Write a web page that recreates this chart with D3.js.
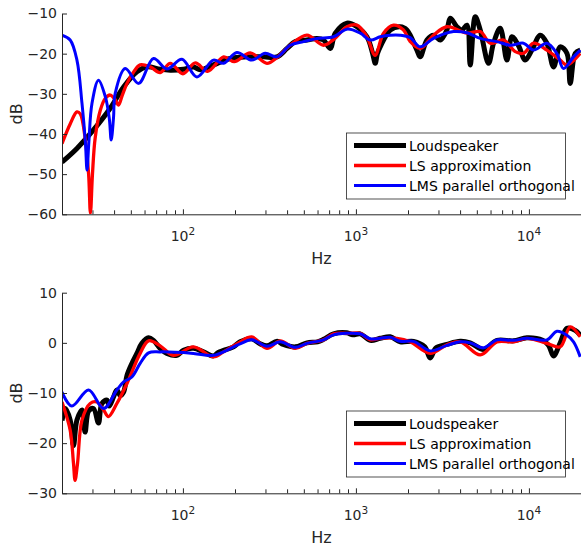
<!DOCTYPE html>
<html>
<head>
<meta charset="utf-8">
<script src="https://cdn.jsdelivr.net/npm/d3@7"></script>
<style>
body { margin: 0; background: #fff; }
svg { display: block; font-family: "DejaVu Sans", sans-serif; }
.axis path, .axis line { stroke: #262626; stroke-width: 1; }
.axis text { fill: #262626; font-size: 14px; font-family: "DejaVu Sans", sans-serif; }
.label { fill: #262626; font-size: 16px; }
.legend text { fill: #000; font-size: 14px; }
</style>
</head>
<body>
<svg width="581" height="551"></svg>
<script>
// series names, same order in both panels
var seriesNames = ['Loudspeaker', 'LS approximation', 'LMS parallel orthogonal'];

var majorFreqs = [100, 1000, 10000];
var minorFreqs = [20, 30, 40, 50, 60, 70, 80, 90, 200, 300, 400, 500, 600, 700, 800, 900,
                  2000, 3000, 4000, 5000, 6000, 7000, 8000, 9000, 20000];

var topTicks = [-10, -20, -30, -40, -50, -60];
var bottomTicks = [10, 0, -10, -20, -30];

// [Hz, dB]
var topLoudspeaker = [[20,-47],[24.4,-43.6],[30.4,-39],[38,-33.6],[45.4,-28.3],[54.2,-24.5],[61.9,-23.3],
  [73.9,-23.9],[84.5,-24.1],[100.8,-23.9],[115,-23.3],[126,-24],[150,-22.8],[188,-21.2],[234,-20.8],
  [292,-20.8],[350,-20.8],[400,-18.7],[446,-17],[521,-16.6],[595,-16.2],[650,-16.6],[710,-18.7],
  [760,-14.9],[887,-12.4],[1013,-13.3],[1158,-15.8],[1250,-20],[1293,-22.4],[1330,-20],[1382,-18.3],
  [1579,-14.1],[1804,-13.3],[1971,-14.1],[2252,-19.1],[2353,-20.8],[2573,-16.6],[2809,-15.4],
  [3071,-16.6],[3357,-14.1],[3509,-11.2],[3836,-13.3],[4100,-14.1],[4381,-12.9],[4579,-22.8],
  [4894,-10.8],[5230,-14.1],[5841,-22.4],[6243,-17.4],[6825,-13.7],[7462,-21.6],[7975,-15.8],
  [8708,-18],[9520,-21.6],[10406,-19.1],[11623,-15.4],[12706,-17.4],[13876,-23.3],[15168,-18.3],
  [16585,-19.9],[17330,-27.4],[18523,-19.9],[19799,-19.1]];

var topLS = [[20,-42.4],[22.3,-37.5],[24.4,-34.5],[25.5,-35],[27.2,-41],[28.5,-50],[29.2,-59.7],
  [30,-50],[31.1,-41],[33.3,-34.1],[35.6,-31.1],[38,-30.3],[40.6,-31.5],[42.4,-32.8],[44.5,-30.5],
  [47.5,-27.4],[52,-24.5],[56.6,-22.8],[64.7,-23.3],[73.9,-24.7],[84.5,-22.4],[100,-25],[118,-22.3],
  [139,-24.4],[172,-20.8],[198,-22],[245,-19.8],[306,-22.4],[349,-21],[417,-17.9],[521,-15.4],
  [650,-17.9],[742,-16.5],[887,-13.3],[1013,-12.9],[1158,-15.8],[1290,-20.4],[1444,-14.9],
  [1650,-12.9],[1884,-14.1],[2060,-17],[2353,-18.7],[2809,-15.4],[3357,-13.3],[4381,-14.9],
  [5230,-14.5],[5975,-17.4],[7133,-16.6],[8333,-19.5],[9307,-19.9],[10631,-17.4],[12706,-19.1],
  [15168,-21.6],[16585,-22.8],[19799,-19.9]];

var topLMS = [[20,-15.4],[22.3,-16.6],[24.4,-21.6],[26.1,-32.4],[27.3,-42],[27.9,-49],[28.6,-42],
  [29.8,-32.4],[32.5,-26.6],[35.6,-30.7],[37.5,-36],[38.5,-41.5],[39.7,-36],[40.6,-29.9],
  [46.4,-23.7],[55.4,-27.4],[67.6,-21.2],[80.8,-23.8],[98.7,-21.4],[120.5,-25.8],[150,-21.6],
  [172,-22.4],[205,-19.7],[250,-21.6],[299,-19.9],[349,-20.8],[417,-17.9],[498,-17],[595,-16.2],
  [742,-15.8],[887,-13.9],[1059,-14.9],[1210,-16.6],[1382,-15.8],[1579,-15.4],[1804,-15.4],
  [2060,-16],[2353,-18.3],[2809,-16.2],[3667,-14.5],[4381,-14.8],[5230,-16.2],[6531,-17],
  [7797,-17.9],[9307,-17.4],[10631,-19.1],[12706,-17.4],[14515,-20],[15849,-23.7],[18109,-20.8],
  [19799,-19.1]];

// [Hz, dB]
var bottomLoudspeaker = [[20,-15.5],[20.9,-13.1],[22.3,-15.4],[23.3,-20.5],[24.4,-15.4],[26.1,-13.4],
  [27.2,-17.8],[28.5,-13.6],[30.4,-13.1],[32.5,-16],[34,-12.1],[36.4,-11.4],[37.5,-12.6],
  [39.7,-10.8],[41.5,-9.4],[43.4,-10.5],[45.4,-9.8],[47.5,-6.5],[50.7,-4.1],[54.2,-2.1],
  [57.9,-0.1],[63.3,1.0],[67.6,0.5],[73.9,-1.1],[80.8,-2.1],[92.3,-2.5],[100.8,-1.5],[115,-1.1],
  [131.5,-1.8],[150,-2.6],[160,-1.9],[172,-1.5],[196,-0.8],[214,0.2],[250,0.8],[280,-0.2],
  [306,-0.6],[350,0.3],[380,-0.3],[446,-0.8],[521,0],[600,0.2],[650,0.7],[742,1.8],[887,2.0],
  [960,1.6],[1059,1.8],[1210,0.5],[1382,0.9],[1579,1.2],[1804,0.2],[2153,0.3],[2500,-0.8],
  [2688,-3],[2900,-1],[3357,-0.3],[4009,0.3],[4579,0],[5466,-1.3],[6531,0.5],[8147,0.4],
  [9737,1],[12000,0.5],[13000,-0.5],[13876,-2.6],[15168,0],[16585,2.9],[18523,2.5],[19799,1.5]];

var bottomLS = [[20,-11.8],[22.3,-17.4],[23.3,-24],[23.8,-27.4],[24.6,-24],[26.1,-15.4],
  [29.1,-12.1],[31.8,-11.8],[34.8,-13.4],[37.1,-14.7],[41.5,-12.1],[47.5,-8.1],[56.6,-2.1],
  [63.3,0.4],[73.9,-0.6],[88.2,-2.5],[115,-0.8],[150.3,-2.8],[171.7,-1.8],[214,0.2],[250,1.2],
  [306,-1.1],[365,0.4],[446,-1.1],[521,-0.1],[650,0.6],[742,1.8],[887,1.9],[1059,1.9],[1210,0.6],
  [1382,0.9],[1726,0.9],[2060,0.2],[2688,-2.1],[3357,-0.4],[4009,0.2],[5230,-2.4],[6531,0.2],
  [8147,0.2],[9737,0.9],[12706,-0.1],[15168,-0.8],[17330,3.2],[19799,1.2]];

var bottomLMS = [[20,-9.8],[22.8,-12.6],[28.5,-9.4],[34.8,-13.1],[41.5,-9.4],[45.4,-7.8],
  [50.7,-6.8],[56.6,-4.1],[63.3,-2.0],[73.9,-1.8],[115,-2.1],[150,-2.5],[214,-0.2],[250,0.6],
  [306,-0.7],[365,0.2],[446,-0.9],[521,-0.1],[650,0.6],[742,1.6],[887,1.9],[1059,1.8],[1210,0.8],
  [1382,0.9],[1579,1.1],[1804,0.3],[2153,0.3],[2688,-1.6],[3357,-0.5],[4009,0.2],[4579,0],
  [5466,-1],[6531,0.6],[8147,0.5],[9737,0.9],[12706,0.6],[14515,2.3],[16585,1.5],[18109,0.2],
  [19799,-2.8]];

var lineColors = ['#000000', '#ff0000', '#0000ff'];
var lineWidths = [5, 3.3, 3];

var svg = d3.select('svg');

drawPanel('top', [13.5, 214.3], [-60, -10], topTicks,
          [topLoudspeaker, topLS, topLMS], 133);
drawPanel('bottom', [292.7, 493.3], [-30, 10], bottomTicks,
          [bottomLoudspeaker, bottomLS, bottomLMS], 411);

function drawPanel(id, yRange, yDomain, yTicks, series, legendTop) {
  var x = d3.scaleLog().domain([20, 20000]).range([62, 581]);
  var y = d3.scaleLinear().domain(yDomain).range([yRange[1], yRange[0]]);
  var g = svg.append('g');

  g.append('clipPath')
    .attr('id', 'clip-' + id)
    .append('rect')
      .attr('x', 62).attr('y', yRange[0])
      .attr('width', 519).attr('height', yRange[1] - yRange[0]);

  var line = d3.line()
               .x(d => x(d[0]))
               .y(d => y(d[1]))
               .curve(d3.curveCatmullRom.alpha(0.5));

  g.append('g')
    .attr('clip-path', 'url(#clip-' + id + ')')
    .selectAll('path')
    .data(series)
    .enter()
    .append('path')
      .attr('d', line)
      .style('fill', 'none')
      .style('stroke', (d, i) => lineColors[i])
      .style('stroke-width', (d, i) => lineWidths[i])
      .style('stroke-linejoin', 'round');

  // x axis: minor ticks, then major ticks with 10^n labels
  g.append('g')
    .attr('class', 'axis')
    .attr('transform', 'translate(0,' + yRange[1] + ')')
    .call(d3.axisBottom(x).tickValues(minorFreqs).tickSizeInner(-4).tickSizeOuter(0).tickFormat(''));

  var xMajor = g.append('g')
    .attr('class', 'axis')
    .attr('transform', 'translate(0,' + yRange[1] + ')')
    .call(d3.axisBottom(x).tickValues(majorFreqs).tickSizeInner(-5).tickSizeOuter(0).tickFormat(''));
  xMajor.select('.domain').remove();

  var lab = g.selectAll('text.xlab')
    .data(majorFreqs)
    .enter()
    .append('text')
      .attr('class', 'xlab')
      .attr('x', d => x(d))
      .attr('y', yRange[1] + 27)
      .attr('text-anchor', 'middle')
      .style('fill', '#262626')
      .style('font-size', '14px');
  lab.append('tspan').text('10');
  lab.append('tspan')
    .attr('dy', -6)
    .style('font-size', '10.5px')
    .text(d => Math.round(Math.log10(d)));

  g.append('g')
    .attr('class', 'axis')
    .attr('transform', 'translate(62,0)')
    .call(d3.axisLeft(y).tickValues(yTicks).tickSizeInner(-5).tickSizeOuter(0).tickPadding(5));

  g.append('text')
    .attr('class', 'label')
    .attr('x', 321.5)
    .attr('y', yRange[1] + 50)
    .attr('text-anchor', 'middle')
    .text('Hz');

  g.append('text')
    .attr('class', 'label')
    .attr('transform', 'translate(22,' + ((yRange[0] + yRange[1]) / 2) + ') rotate(-90)')
    .attr('text-anchor', 'middle')
    .text('dB');

  // legend
  var leg = g.append('g').attr('class', 'legend');
  leg.append('rect')
    .attr('x', 346.5).attr('y', legendTop)
    .attr('width', 219).attr('height', 66)
    .style('fill', '#fff')
    .style('stroke', '#262626')
    .style('stroke-width', 0.8);

  var rows = leg.selectAll('g.row')
    .data(seriesNames)
    .enter()
    .append('g')
      .attr('class', 'row')
      .attr('transform', (d, i) => 'translate(0,' + (legendTop + 12.5 + i * 20) + ')');
  rows.append('line')
    .attr('x1', 354).attr('x2', 406)
    .style('stroke', (d, i) => lineColors[i])
    .style('stroke-width', (d, i) => lineWidths[i]);
  rows.append('text')
    .attr('x', 409)
    .attr('y', 5)
    .text(d => d);
}
</script>
</body>
</html>
